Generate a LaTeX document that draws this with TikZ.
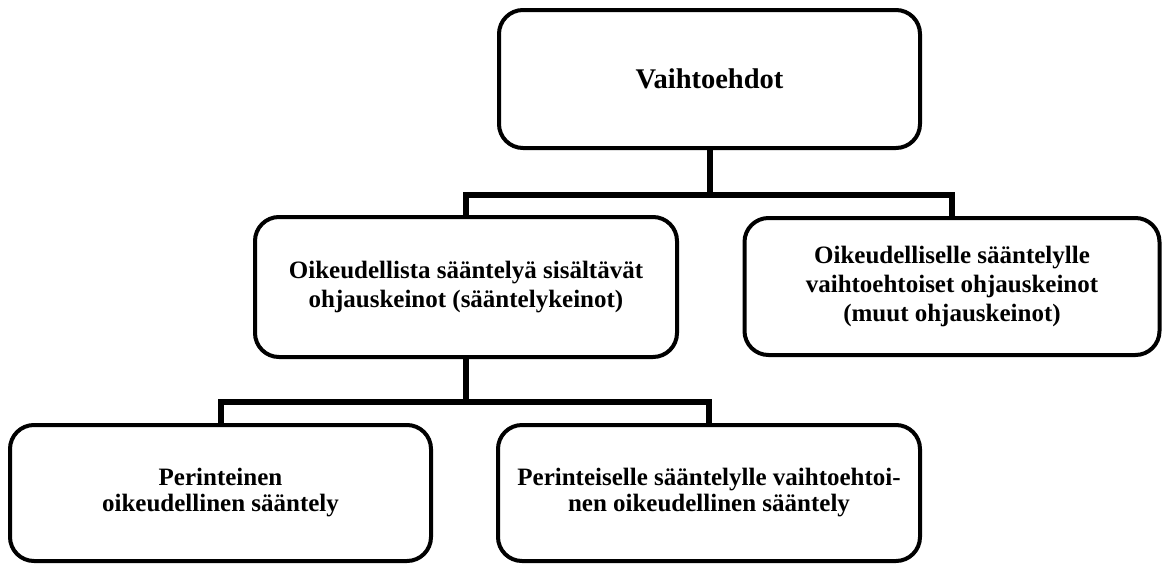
\documentclass[tikz,border=0pt]{standalone}
\usepackage{fontspec}
\setmainfont{Liberation Serif}
\begin{document}
\begin{tikzpicture}[x=1pt,y=-1pt,
  box/.style={draw=black, line width=4pt, rounded corners=24pt, align=center,
    font=\fontsize{25}{29}\selectfont\bfseries, inner sep=0pt},
  conn/.style={draw=black, line width=6pt, line join=miter}]
\useasboundingbox (0,0) rectangle (1162,563);
\node[box, minimum width=421pt, minimum height=138pt, font=\fontsize{28.5}{32}\selectfont\bfseries] (top) at (709.5,79) {Vaihtoehdot};
\node[box, minimum width=422pt, minimum height=140pt] (ml) at (466,287) {Oikeudellista sääntelyä sisältävät\\ohjauskeinot (sääntelykeinot)};
\node[box, minimum width=415pt, minimum height=137pt] (mr) at (952,286.5) {Oikeudelliselle sääntelylle\\vaihtoehtoiset ohjauskeinot\\(muut ohjauskeinot)};
\node[box, minimum width=421pt, minimum height=136pt, font=\fontsize{25}{26}\selectfont\bfseries] (bl) at (220.5,493) {Perinteinen\\oikeudellinen sääntely};
\node[box, minimum width=422pt, minimum height=136pt, font=\fontsize{25}{26}\selectfont\bfseries] (br) at (709,493) {Perinteiselle sääntelylle vaihtoehtoi-\\nen oikeudellinen sääntely};
\coordinate (j1) at (709.5,195);
\coordinate (j2) at (466,402);
\draw[conn] (top.south) -- (j1);
\draw[conn] (ml.north) |- (j1) -| (mr.north);
\draw[conn] (ml.south) -- (j2);
\draw[conn] (bl.north) |- (j2) -| (br.north);
\end{tikzpicture}
\end{document}
